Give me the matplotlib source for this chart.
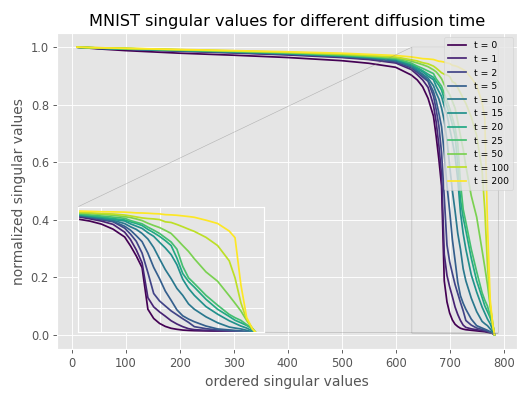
import matplotlib
matplotlib.use('Agg')
import matplotlib.pyplot as plt
import numpy as np

plt.style.use('ggplot')

# ordered singular value index (shared grid of read points)
x_vals = [10, 50, 100, 200, 300, 400, 500, 550, 600,
          629, 640, 650, 660, 670, 675, 680, 685, 690, 695, 700, 705, 710,
          715, 720, 725, 730, 740, 750, 760, 765, 770, 775, 780, 783]

t_labels = ['t = 0', 't = 1', 't = 2', 't = 5', 't = 10', 't = 15',
            't = 20', 't = 25', 't = 50', 't = 100', 't = 200']

sv_t0 = [1.0, 0.994, 0.988, 0.979, 0.972, 0.964, 0.953, 0.944, 0.930,
         0.903, 0.886, 0.862, 0.822, 0.760, 0.690, 0.610, 0.517, 0.187, 0.114,
         0.075, 0.051, 0.036, 0.028, 0.022, 0.019, 0.017, 0.015, 0.013, 0.011,
         0.010, 0.008, 0.006, 0.004, 0.0]
sv_t1 = [1.0, 0.996, 0.993, 0.986, 0.980, 0.973, 0.964, 0.957, 0.945,
         0.922, 0.904, 0.886, 0.860, 0.798, 0.740, 0.658, 0.555, 0.279, 0.206,
         0.166, 0.132, 0.096, 0.070, 0.049, 0.033, 0.025, 0.020, 0.017, 0.014,
         0.012, 0.010, 0.007, 0.004, 0.0]
sv_t2 = [1.0, 0.996, 0.993, 0.987, 0.981, 0.975, 0.966, 0.959, 0.948,
         0.928, 0.912, 0.896, 0.881, 0.830, 0.783, 0.726, 0.632, 0.478, 0.312,
         0.253, 0.213, 0.174, 0.143, 0.112, 0.083, 0.049, 0.033, 0.023, 0.018,
         0.015, 0.012, 0.008, 0.004, 0.0]
sv_t3 = [1.0, 0.996, 0.993, 0.988, 0.982, 0.976, 0.968, 0.962, 0.952,
         0.933, 0.917, 0.903, 0.884, 0.845, 0.814, 0.770, 0.723, 0.632, 0.519,
         0.430, 0.331, 0.258, 0.182, 0.135, 0.109, 0.088, 0.054, 0.031, 0.023,
         0.019, 0.015, 0.010, 0.005, 0.0]
sv_t4 = [1.0, 0.996, 0.994, 0.988, 0.983, 0.977, 0.969, 0.963, 0.954,
         0.933, 0.920, 0.906, 0.892, 0.866, 0.841, 0.820, 0.788, 0.744, 0.676,
         0.587, 0.501, 0.430, 0.352, 0.297, 0.229, 0.187, 0.127, 0.080, 0.046,
         0.038, 0.031, 0.020, 0.008, 0.0]
sv_t5 = [1.0, 0.997, 0.994, 0.989, 0.984, 0.978, 0.970, 0.965, 0.957,
         0.938, 0.925, 0.914, 0.899, 0.887, 0.864, 0.846, 0.828, 0.794, 0.765,
         0.718, 0.673, 0.620, 0.540, 0.425, 0.352, 0.297, 0.208, 0.148, 0.096,
         0.075, 0.054, 0.038, 0.015, 0.0]
sv_t6 = [1.0, 0.997, 0.995, 0.990, 0.985, 0.979, 0.971, 0.966, 0.959,
         0.942, 0.929, 0.918, 0.906, 0.895, 0.880, 0.867, 0.851, 0.820, 0.794,
         0.765, 0.731, 0.692, 0.592, 0.470, 0.407, 0.362, 0.266, 0.187, 0.130,
         0.100, 0.080, 0.059, 0.031, 0.0]
sv_t7 = [1.0, 0.997, 0.995, 0.990, 0.985, 0.980, 0.972, 0.967, 0.960,
         0.944, 0.934, 0.926, 0.917, 0.908, 0.890, 0.877, 0.864, 0.838, 0.814,
         0.788, 0.754, 0.720, 0.663, 0.527, 0.436, 0.391, 0.297, 0.219, 0.146,
         0.120, 0.099, 0.065, 0.031, 0.0]
sv_t8 = [1.0, 0.997, 0.995, 0.991, 0.986, 0.981, 0.974, 0.969, 0.963,
         0.951, 0.945, 0.939, 0.932, 0.921, 0.914, 0.903, 0.890, 0.869, 0.851,
         0.835, 0.812, 0.788, 0.741, 0.692, 0.645, 0.587, 0.483, 0.409, 0.294,
         0.235, 0.174, 0.099, 0.036, 0.0]
sv_t9 = [1.0, 0.998, 0.996, 0.991, 0.987, 0.982, 0.976, 0.971, 0.966,
         0.956, 0.952, 0.946, 0.942, 0.934, 0.927, 0.919, 0.911, 0.906, 0.903,
         0.898, 0.880, 0.875, 0.859, 0.841, 0.822, 0.804, 0.757, 0.692, 0.571,
         0.436, 0.240, 0.104, 0.031, 0.0]
sv_t10 = [1.0, 0.998, 0.996, 0.992, 0.988, 0.984, 0.979, 0.975, 0.971,
          0.966, 0.963, 0.960, 0.959, 0.957, 0.954, 0.951, 0.950, 0.948, 0.945,
          0.943, 0.937, 0.935, 0.932, 0.927, 0.922, 0.916, 0.893, 0.867, 0.807,
          0.754, 0.383, 0.122, 0.031, 0.0]

series = [sv_t0, sv_t1, sv_t2, sv_t3, sv_t4, sv_t5, sv_t6, sv_t7, sv_t8,
          sv_t9, sv_t10]

fig = plt.figure(figsize=(6.4, 4.81), dpi=83)
ax = fig.add_axes([0.1073, 0.1253, 0.8663, 0.792])
axins = ax.inset_axes([0.046, 0.053, 0.404, 0.397])

colors = plt.cm.viridis(np.linspace(0, 1, len(series)))
for ys, lab, c in zip(series, t_labels, colors):
    ax.plot(x_vals, ys, color=c, label=lab)
    axins.plot(x_vals, ys, color=c)

ax.set_xlim(-27, 825)
ax.set_ylim(-0.05, 1.05)
ax.set_xticks(np.arange(0, 801, 100))
ax.set_yticks(np.arange(0, 1.01, 0.2))

axins.set_xlim(630, 790)
axins.set_ylim(0.005, 1.0)
axins.set_xticks([650, 700, 750])
axins.set_yticks([0.2, 0.4, 0.6, 0.8])
axins.tick_params(length=0, labelbottom=False, labelleft=False)
ax.indicate_inset_zoom(axins, edgecolor='0.5')

ax.set_title('MNIST singular values for different diffusion time', fontsize=14)
ax.set_xlabel('ordered singular values')
ax.set_ylabel('normalized singular values')
ax.legend(loc='upper right', fontsize=8)

fig.savefig('out.png', dpi=83)
